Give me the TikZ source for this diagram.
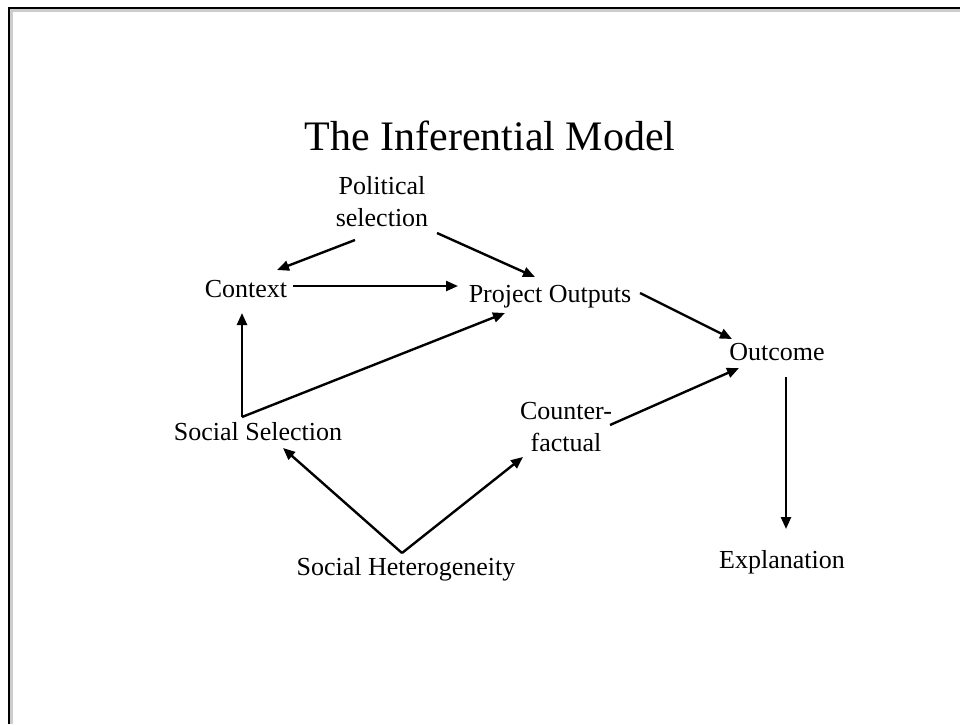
\documentclass[tikz,border=0pt]{standalone}
\usepackage{fontspec}
\setmainfont{Liberation Serif}
\usetikzlibrary{calc}
\usetikzlibrary{arrows.meta}

\tikzset{ %styles for the model
  concept/.style={anchor=base, inner sep=0pt, align=center,
    font=\fontsize{26}{32}\selectfont},
  link/.style={line width=2.4pt, -{Triangle[length=12pt,width=10pt]}}
}

\begin{document}
\begin{tikzpicture}[x=1pt,y=-1pt] % one unit is one pixel, y runs down
\useasboundingbox (0,0) rectangle (960,724);
\draw[line width=3pt, black!20] (11,724) |- (960,10);
\draw[line width=2pt] (9,724) |- (960,8); % slide frame

\node[anchor=base, font=\fontsize{42}{50}\selectfont] (title) at (490,150) {The Inferential Model};

% base of a two-line node is the baseline of its last line
\node[concept] (pol) at (382,226) {Political\\selection};
\node[concept] (ctx) at (246,297) {Context};
\node[concept] (po)  at (550,302) {Project Outputs};
\node[concept] (oc)  at (777,360) {Outcome};
\node[concept] (cf)  at (566,451) {Counter-\\factual};
\node[concept] (ss)  at (258,440) {Social Selection};
\node[concept] (sh)  at (406,575) {Social Heterogeneity};
\node[concept] (ex)  at (782,568) {Explanation};

\draw[link] ($(pol.base)+(-27,14)$) -- ($(ctx.base)+(31,-27)$);
\draw[link] ($(pol.base)+(55,7)$) -- ($(po.base)+(-15,-25)$);
\draw[link] ($(ctx.base)+(47,-11)$) -- ($(po.base)+(-92,-16)$);
\draw[link] ($(ss.base)+(-16,-23)$) -- ($(ctx.base)+(-4,16)$);
\draw[link] ($(ss.base)+(-16,-23)$) -- ($(po.base)+(-45,11)$);
\draw[link] ($(sh.base)+(-4,-22)$) -- ($(ss.base)+(25,8)$);
\draw[link] ($(sh.base)+(-4,-22)$) -- ($(cf.base)+(-43,6)$);
\draw[link] ($(po.base)+(90,-9)$) -- ($(oc.base)+(-45,-21)$);
\draw[link] ($(cf.base)+(44,-26)$) -- ($(oc.base)+(-38,8)$);
\draw[link] ($(oc.base)+(9,17)$) -- ($(ex.base)+(4,-39)$);
\end{tikzpicture}
\end{document}
